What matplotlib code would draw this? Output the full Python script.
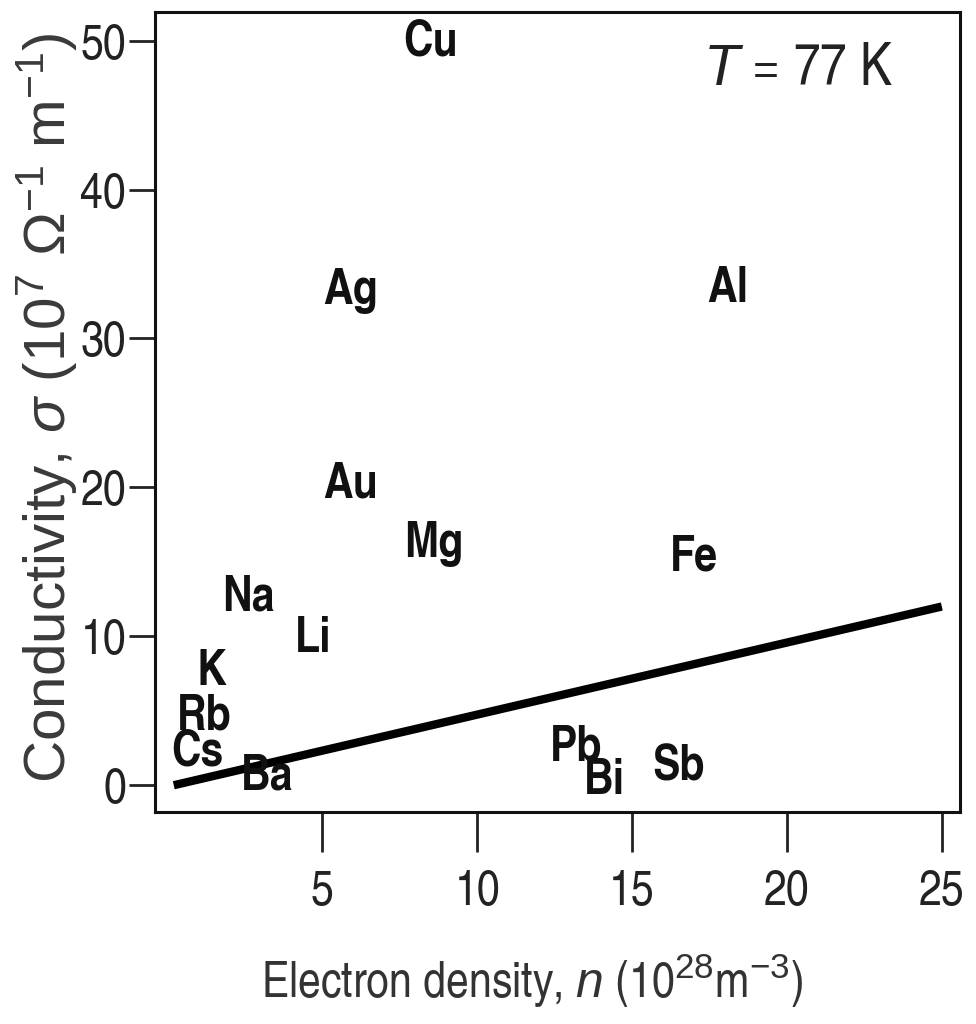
import matplotlib
matplotlib.use("Agg")
import matplotlib.pyplot as plt
import numpy as np

FONT = 'TeX Gyre Heros Cn'
plt.rcParams['font.family'] = [FONT, 'Liberation Sans', 'DejaVu Sans']
plt.rcParams['mathtext.fontset'] = 'custom'
plt.rcParams['mathtext.rm'] = 'Liberation Sans'
plt.rcParams['mathtext.it'] = 'Liberation Sans:italic'
plt.rcParams['mathtext.bf'] = 'Liberation Sans:bold'

# element labels: electron density (1e28 m^-3), conductivity (1e7 ohm^-1 m^-1)
elements = ['Cu', 'Ag', 'Al', 'Au', 'Mg', 'Fe', 'Na', 'Li', 'K', 'Rb', 'Cs', 'Ba', 'Pb', 'Bi', 'Sb']
density = [8.5, 5.9, 18.1, 5.9, 8.6, 17.0, 2.6, 4.7, 1.4, 1.2, 0.95, 3.2, 13.2, 14.1, 16.5]
sigma = [49.9, 33.2, 33.3, 20.2, 16.2, 15.3, 12.6, 9.8, 7.6, 4.6, 2.2, 0.6, 2.5, 0.3, 1.2]

# free-electron line
line_n = [0.2, 25.0]
line_sigma = [0.0, 12.0]

xticks = [5, 10, 15, 20, 25]
yticks = [0, 10, 20, 30, 40, 50]

fig = plt.figure(figsize=(9.76, 10.24), dpi=100)
ax = fig.add_axes([0.159, 0.207, 0.825, 0.781])

ax.plot(line_n, line_sigma, color='black', linewidth=6, solid_capstyle='butt')

for name, x, y in zip(elements, density, sigma):
    ax.text(x, y, name, fontsize=36, fontweight='bold', ha='center', va='center', color='#111111')

ax.text(0.917, 0.928, r'$T$ = 77 K', transform=ax.transAxes, fontsize=42,
        ha='right', va='center', color='#222222')

ax.set_xlim(-0.4, 25.6)
ax.set_ylim(-1.8, 51.9)
ax.set_xticks(xticks)
ax.set_yticks(yticks)
ax.tick_params(direction='out', width=2, labelsize=36, colors='#222222')
ax.tick_params(axis='x', length=29, pad=12)
ax.tick_params(axis='y', length=19, pad=2)
for s in ax.spines.values():
    s.set_linewidth(2.2)
    s.set_color('#111111')

ax.set_xlabel(r'Electron density, $n$ (10$^{28}$m$^{-3}$)', fontsize=36, color='#333333')
ax.xaxis.set_label_coords(0.468, -0.175)
ax.set_ylabel(r'Conductivity, $\sigma$ (10$^7$ $\Omega^{-1}$ m$^{-1}$)', fontsize=42,
              color='#3a3a3a', family=['Liberation Sans', 'DejaVu Sans'])
ax.yaxis.set_label_coords(-0.095, 0.505)

fig.savefig('out.png', dpi=100)
